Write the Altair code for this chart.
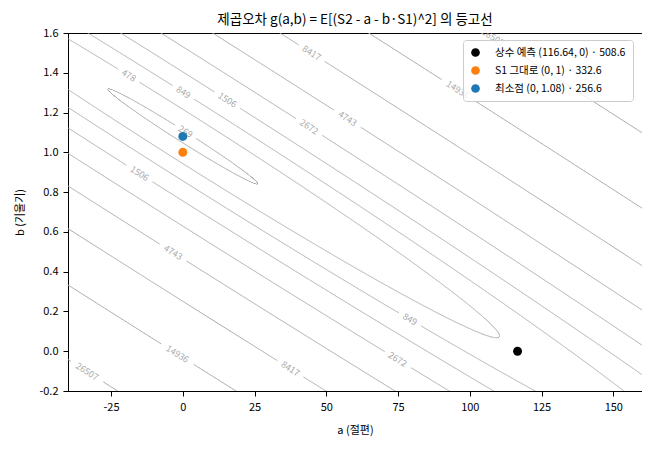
import numpy as np
import pandas as pd
import altair as alt

FONT = "Noto Sans CJK KR"

# g(a,b) = E[(S2 - a - b*S1)^2], written around its minimum
mean_s1 = 108.0        # E[S1]
mean_sq_s1 = 11880.0   # E[S1^2]
a_best = 0.0
b_best = 1.08
g_best = 256.6

levels = [269, 478, 849, 1506, 2672, 4743, 8417, 14936, 26507, 47050]

point_names = ["상수 예측", "S1 그대로", "최소점"]
point_a = [116.64, 0, 0]
point_b = [0, 1, 1.08]
point_g = [508.6, 332.6, 256.6]
point_colors = ["black", "#ff7f0e", "#1f77b4"]

# where the contour labels sit
label_level = [478, 849, 1506, 8417, 4743, 2672, 269, 1506,
               14936, 26507, 4743, 14936, 26507, 8417, 849, 2672]
label_a = [-19.1, 0.1, 15.0, 45.0, 56.9, 43.6, 0.8, -15.3,
           96.2, 108.1, -3.8, -2.0, -33.0, 37.4, 79.2, 74.6]
label_b = [1.38, 1.30, 1.25, 1.50, 1.16, 1.12, 1.10, 0.89,
           1.32, 1.575, 0.49, -0.02, -0.10, -0.09, 0.16, -0.05]

a_range = [-40, 160]
b_range = [-0.2, 1.6]
W, H = 574, 358
LABEL_SIZE = 9


def to_px(a, b):
    px = (np.asarray(a) - a_range[0]) / (a_range[1] - a_range[0]) * W
    py = (b_range[1] - np.asarray(b)) / (b_range[1] - b_range[0]) * H
    return px, py


hess = np.array([[1.0, mean_s1], [mean_s1, mean_sq_s1]])
evals, evecs = np.linalg.eigh(hess)
t = np.linspace(0, 2 * np.pi, 12001)[:-1]
n = len(t)

line_rows = []
text_rows = []
for lev in levels:
    r = np.sqrt((lev - g_best) / evals)
    u = np.vstack([r[0] * np.cos(t), r[1] * np.sin(t)])
    du = np.vstack([-r[0] * np.sin(t), r[1] * np.cos(t)])
    a = a_best + evecs[0] @ u
    b = b_best + evecs[1] @ u
    da = evecs[0] @ du
    db = evecs[1] @ du
    px, py = to_px(a, b)
    inside = (px > -2) & (px < W + 2) & (py > -2) & (py < H + 2)
    keep = inside.copy()

    for lv, la, lb in zip(label_level, label_a, label_b):
        if lv != lev:
            continue
        lx, ly = to_px(la, lb)
        d2 = np.where(inside, (px - lx) ** 2 + (py - ly) ** 2, np.inf)
        i0 = int(np.argmin(d2))
        txt = str(lev)
        ang = np.degrees(np.arctan2(-db[i0] * H / 1.8, da[i0] * W / 200))
        if ang > 90:
            ang -= 180
        if ang <= -90:
            ang += 180
        text_rows.append({"a": a[i0], "b": b[i0], "text": txt, "angle": ang % 360})
        rad = 0.5 * len(txt) * 0.56 * LABEL_SIZE + 5
        for step in (1, -1):
            j = i0
            while (px[j] - px[i0]) ** 2 + (py[j] - py[i0]) ** 2 < rad ** 2:
                keep[j] = False
                j = (j + step) % n

    seg = 0
    prev = False
    for i in range(n):
        if keep[i]:
            if not prev:
                seg += 1
            line_rows.append({"a": a[i], "b": b[i], "seg": f"{lev}-{seg}", "order": i})
        prev = keep[i]

lines_df = pd.DataFrame(line_rows)
text_df = pd.DataFrame(text_rows)

point_labels = [f"{nm} ({x:g}, {y:g}) · {g}" for nm, x, y, g in zip(point_names, point_a, point_b, point_g)]
points_df = pd.DataFrame({"a": point_a, "b": point_b, "label": point_labels})

x_enc = alt.X("a:Q", title="a (절편)",
              scale=alt.Scale(domain=a_range, nice=False, zero=False),
              axis=alt.Axis(values=[-25, 0, 25, 50, 75, 100, 125, 150],
                            labelExpr="replace(format(datum.value, 'd'), '\u2212', '-')"))
y_enc = alt.Y("b:Q", title="b (기울기)",
              scale=alt.Scale(domain=b_range, nice=False, zero=False),
              axis=alt.Axis(values=[-0.2, 0, 0.2, 0.4, 0.6, 0.8, 1.0, 1.2, 1.4, 1.6],
                            labelExpr="replace(format(datum.value, '.1f'), '\u2212', '-')"))

lines = alt.Chart(lines_df).mark_line(clip=True, color="#aaaaaa", strokeWidth=1).encode(
    x=x_enc, y=y_enc, detail="seg:N", order="order:Q"
)

labels = alt.Chart(text_df).mark_text(
    font=FONT, fontSize=LABEL_SIZE, color="#aaaaaa", align="center", baseline="middle", clip=True
).encode(x=x_enc, y=y_enc, text="text:N", angle=alt.Angle("angle:Q", scale=None))

points = alt.Chart(points_df).mark_point(filled=True, size=80, opacity=1).encode(
    x=x_enc, y=y_enc,
    color=alt.Color("label:N", sort=point_labels,
                    scale=alt.Scale(domain=point_labels, range=point_colors),
                    legend=alt.Legend(title=None, orient="none", legendX=395, legendY=7,
                                      fillColor="rgba(255,255,255,0.8)", strokeColor="#cccccc",
                                      cornerRadius=3, padding=7, rowPadding=7,
                                      symbolType="circle", symbolSize=75, labelOffset=14,
                                      labelFontSize=10.5, labelFont=FONT,
                                      labelColor="black", labelLimit=300)),
)

chart = alt.layer(lines, labels, points).properties(
    width=W, height=H,
    title=alt.Title("제곱오차 g(a,b) = E[(S2 - a - b·S1)^2] 의 등고선",
                    font=FONT, fontSize=13.5, fontWeight="normal", color="black",
                    anchor="middle", frame="group", offset=1),
    autosize=alt.AutoSizeParams(type="none"),
    padding={"left": 60, "top": 25, "right": 0, "bottom": 50},
).configure_view(
    stroke="black", strokeWidth=1
).configure_axis(
    grid=False, domainColor="black", tickColor="black", tickSize=5,
    labelColor="black", labelFont=FONT, labelFontSize=11, labelPadding=5,
    titleColor="black", titleFont=FONT, titleFontSize=11, titleFontWeight="normal",
).configure_axisX(titlePadding=12).configure_axisY(titlePadding=13)

chart.save("out.html", embed_options={"renderer": "svg", "actions": False})
